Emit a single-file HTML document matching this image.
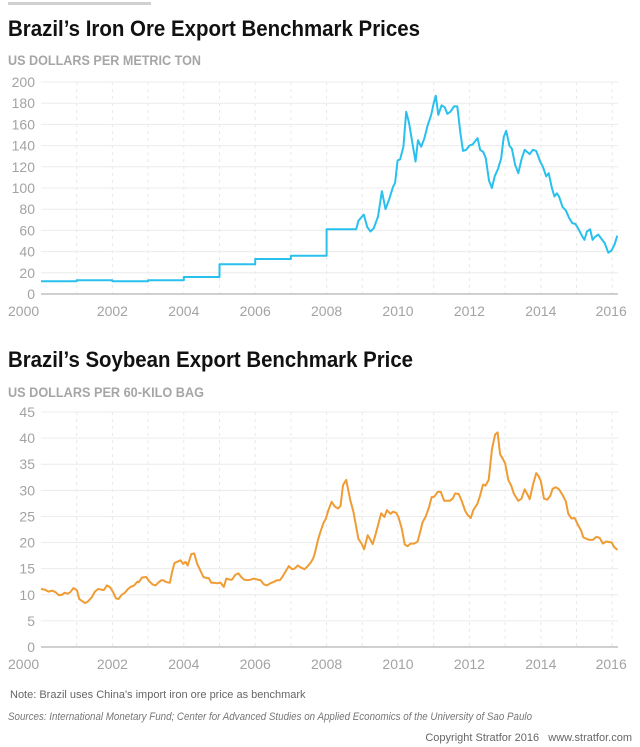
<!DOCTYPE html>
<html><head><meta charset="utf-8"><style>
html,body{margin:0;padding:0;background:#fff;}
svg{display:block;font-family:"Liberation Sans",sans-serif;}
</style></head><body>
<svg id="root" width="640" height="747" viewBox="0 0 640 747">
<rect x="8" y="2" width="143" height="3" fill="#d0d0d0"/>
<text x="8" y="36" font-size="22" font-weight="bold" fill="#111" textLength="412" lengthAdjust="spacingAndGlyphs">Brazil’s Iron Ore Export Benchmark Prices</text>
<text x="8" y="65" font-size="13.5" font-weight="bold" fill="#a6a6a6" textLength="193" lengthAdjust="spacingAndGlyphs">US DOLLARS PER METRIC TON</text>
<text x="8" y="367" font-size="22" font-weight="bold" fill="#111" textLength="405" lengthAdjust="spacingAndGlyphs">Brazil’s Soybean Export Benchmark Price</text>
<text x="8" y="397" font-size="13.5" font-weight="bold" fill="#a6a6a6" textLength="196" lengthAdjust="spacingAndGlyphs">US DOLLARS PER 60-KILO BAG</text>
<g id="iron"></g>
<g id="soy"></g>
<text x="10" y="698" font-size="11" fill="#666">Note: Brazil uses China's import iron ore price as benchmark</text>
<text x="8" y="720" font-size="11" font-style="italic" fill="#777" textLength="524" lengthAdjust="spacingAndGlyphs">Sources: International Monetary Fund; Center for Advanced Studies on Applied Economics of the University of Sao Paulo</text>
<text x="632" y="741" font-size="11" fill="#666" text-anchor="end" xml:space="preserve">Copyright Stratfor 2016   www.stratfor.com</text>
</svg>
<script>
const xYears = [2000,2002,2004,2006,2008,2010,2012,2014,2016];
const ironTicks = [0,20,40,60,80,100,120,140,160,180,200];
const soyTicks = [0,5,10,15,20,25,30,35,40,45];
const ironDates = [2000,2001,2001,2002,2002,2003,2003,2004,2004,2005,2005,2006,2006,2007,2007,2008,2008,2008.83,2008.89,2009.04,2009.14,2009.23,2009.32,2009.44,2009.55,2009.65,2009.76,2009.86,2009.92,2009.99,2010.06,2010.15,2010.23,2010.31,2010.40,2010.49,2010.56,2010.65,2010.74,2010.83,2010.93,2011.0,2011.06,2011.13,2011.22,2011.31,2011.38,2011.47,2011.57,2011.66,2011.75,2011.82,2011.91,2012.0,2012.09,2012.18,2012.23,2012.30,2012.39,2012.46,2012.55,2012.63,2012.71,2012.80,2012.89,2012.96,2013.03,2013.12,2013.19,2013.28,2013.37,2013.46,2013.55,2013.62,2013.69,2013.78,2013.87,2013.97,2014.06,2014.15,2014.22,2014.31,2014.38,2014.45,2014.51,2014.61,2014.70,2014.79,2014.88,2014.97,2015.06,2015.15,2015.22,2015.29,2015.38,2015.45,2015.52,2015.61,2015.70,2015.79,2015.89,2015.98,2016.07,2016.14];
const ironValues = [12,12,13,13,12,12,13,13,16,16,28,28,33,33,36,36,61,61,69,75,63,59,62,73,97,80,90,101,105,126,127,139,172,161,143,125,145,139,147,159,169,180,187,169,178,176,170,172,177,177,151,135,136,140,141,145,147,136,134,128,107,100,111,118,128,148,154,140,137,122,114,127,136,134,132,136,135,126,120,111,114,100,92,95,92,82,79,72,67,66,61,55,51,59,61,51,54,56,52,48,39,41,47,55];
const soyDates = [2000.00,2000.11,2000.21,2000.32,2000.41,2000.50,2000.59,2000.66,2000.75,2000.82,2000.91,2001.01,2001.07,2001.17,2001.23,2001.31,2001.42,2001.51,2001.60,2001.69,2001.76,2001.85,2001.94,2002.01,2002.10,2002.17,2002.26,2002.35,2002.42,2002.51,2002.61,2002.70,2002.74,2002.83,2002.95,2003.02,2003.12,2003.21,2003.28,2003.37,2003.42,2003.52,2003.61,2003.67,2003.74,2003.91,2003.98,2004.05,2004.11,2004.21,2004.29,2004.37,2004.46,2004.55,2004.64,2004.70,2004.77,2004.86,2004.93,2005.03,2005.12,2005.19,2005.28,2005.35,2005.44,2005.53,2005.62,2005.69,2005.79,2005.88,2005.97,2006.06,2006.15,2006.24,2006.33,2006.42,2006.50,2006.61,2006.69,2006.76,2006.87,2006.94,2007.03,2007.10,2007.19,2007.28,2007.38,2007.46,2007.55,2007.62,2007.66,2007.76,2007.82,2007.91,2007.98,2008.05,2008.14,2008.23,2008.32,2008.39,2008.46,2008.55,2008.66,2008.75,2008.89,2008.98,2009.05,2009.15,2009.22,2009.29,2009.38,2009.47,2009.53,2009.62,2009.69,2009.79,2009.86,2009.95,2010.01,2010.10,2010.19,2010.27,2010.35,2010.46,2010.55,2010.62,2010.69,2010.78,2010.87,2010.94,2011.02,2011.11,2011.20,2011.29,2011.38,2011.45,2011.54,2011.60,2011.70,2011.79,2011.88,2011.95,2012.04,2012.11,2012.22,2012.29,2012.38,2012.45,2012.54,2012.63,2012.72,2012.79,2012.86,2012.93,2013.00,2013.09,2013.17,2013.25,2013.37,2013.46,2013.55,2013.62,2013.69,2013.78,2013.87,2013.93,2014.00,2014.09,2014.18,2014.27,2014.33,2014.42,2014.51,2014.61,2014.70,2014.77,2014.86,2014.95,2015.04,2015.13,2015.19,2015.28,2015.37,2015.46,2015.56,2015.65,2015.74,2015.83,2015.92,2015.99,2016.06,2016.15];
const soyValues = [11.1,11.0,10.6,10.8,10.5,9.9,10.0,10.4,10.2,10.5,11.3,10.8,9.2,8.7,8.4,8.7,9.5,10.6,11.1,11.0,10.9,11.8,11.4,10.6,9.3,9.2,10.0,10.4,11.0,11.5,11.8,12.5,12.4,13.3,13.4,12.7,12.0,11.8,12.3,12.8,12.8,12.4,12.3,14.3,16.1,16.6,15.9,16.3,15.6,17.8,17.9,16.0,14.7,13.4,13.2,13.2,12.3,12.3,12.2,12.3,11.5,13.1,12.9,12.9,13.8,14.1,13.3,12.9,12.8,12.9,13.1,12.9,12.8,12.0,11.8,12.2,12.4,12.8,12.8,13.4,14.7,15.5,14.9,15.0,15.6,15.2,14.9,15.4,16.1,16.9,17.7,20.5,21.9,23.7,24.6,26.2,27.8,26.9,26.5,27.0,31.0,32.0,28.2,25.9,20.7,19.8,18.7,21.4,20.6,19.7,21.8,24.1,25.6,24.9,26.2,25.5,25.9,25.7,24.9,22.8,19.6,19.3,19.8,19.8,20.2,22.0,23.9,25.0,26.8,28.7,28.8,29.7,29.7,28.0,28.0,28.0,28.5,29.4,29.3,27.9,26.1,25.3,24.7,26.2,27.4,28.8,31.1,30.9,32.0,37.8,40.7,41.1,36.9,36.1,35.2,32.0,30.9,29.3,28.0,28.4,30.2,29.3,28.3,31.0,33.3,32.8,31.8,28.4,28.2,29.0,30.3,30.6,30.2,29.1,27.9,25.5,24.6,24.7,23.4,22.3,21.0,20.7,20.5,20.5,21.1,20.9,19.8,20.2,20.1,20.0,19.1,18.6,19.0];

const NS = "http://www.w3.org/2000/svg";
function mk(parent, tag, attrs){const e=document.createElementNS(NS,tag);for(const k in attrs)e.setAttribute(k,attrs[k]);parent.appendChild(e);return e;}
const X0=41, YW=35.7, XR=618;
function xScale(yr){return X0+(yr-2000)*YW;}

function drawChart(g, yBottom, yTop, maxV, ticks, dates, values, color, prefix){
  const yScale=v=>yBottom-(v/maxV)*(yBottom-yTop);
  for(let yr=2001; yr<=2016; yr++){
    const l=mk(g,'line',{x1:xScale(yr),x2:xScale(yr),y1:yTop,y2:yBottom,stroke:'#e8e8e8','stroke-width':1,'stroke-dasharray':'3,4'});
    
    
  }
  ticks.forEach(t=>{
    const y=yScale(t);
    const l=mk(g,'line',{x1:X0,x2:XR,y1:y,y2:y,stroke:t===0?'#b5b5b5':'#ececec','stroke-width':t===0?1.2:1});
    
    
    const tx=mk(g,'text',{x:35,y:y+5,'font-size':14,fill:'#a3a3a3','text-anchor':'end'});
    tx.textContent=t;
    
    
  });
  xYears.forEach(yr=>{
    const tx=mk(g,'text',{x:xScale(yr),y:yBottom+22,'font-size':14,fill:'#a3a3a3','text-anchor':'middle'});
    if(yr===2000){tx.setAttribute('x',8);tx.setAttribute('text-anchor','start');}
    if(yr===2016){tx.setAttribute('x',xScale(yr)-1);}
    tx.textContent=yr;
    
    
  });
  const d=dates.map((t,i)=>(i?'L':'M')+xScale(t).toFixed(1)+','+yScale(values[i]).toFixed(1)).join(' ');
  const p=mk(g,'path',{d:d,fill:'none',stroke:color,'stroke-width':2,'stroke-linejoin':'round'});
  
  
}
drawChart(document.getElementById('iron'),294,82,200,ironTicks,ironDates,ironValues,'#29c0ee','iron');
drawChart(document.getElementById('soy'),647,412,45,soyTicks,soyDates,soyValues,'#f09c35','soy');
</script>
</body></html>
